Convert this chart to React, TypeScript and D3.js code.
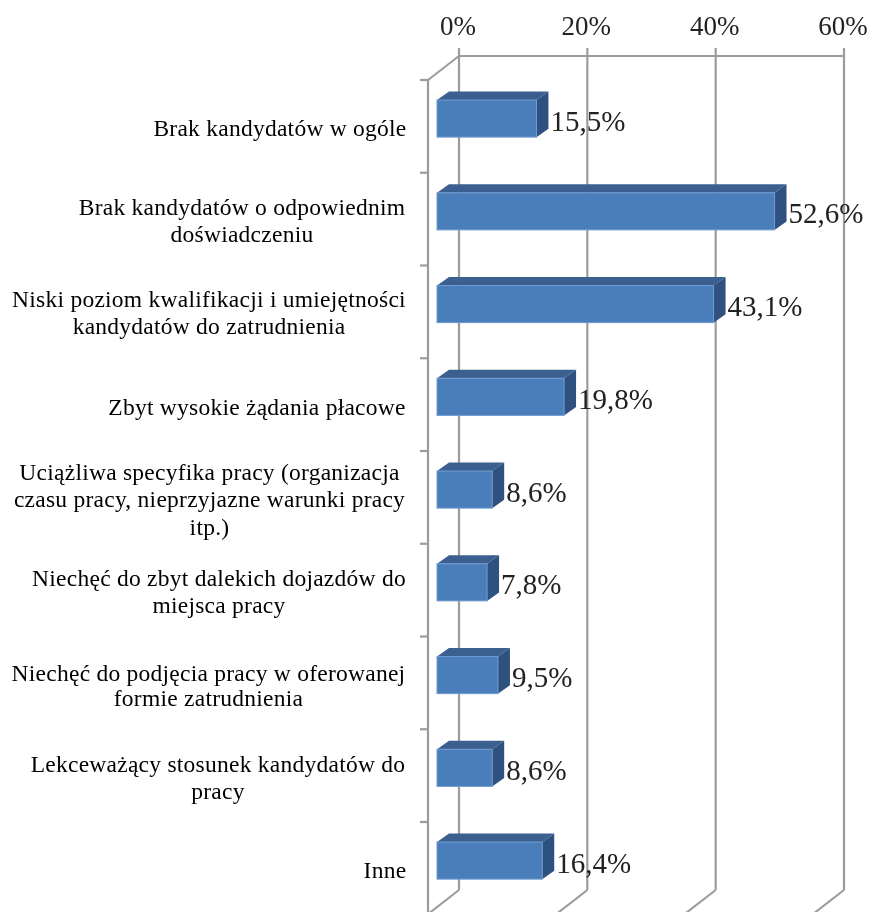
import React from "react";
import * as d3 from "d3";

const categories: string[][] = [
  ["Brak kandydatów w ogóle"],
  ["Brak kandydatów o odpowiednim", "doświadczeniu"],
  ["Niski poziom kwalifikacji i umiejętności", "kandydatów do zatrudnienia"],
  ["Zbyt wysokie żądania płacowe"],
  ["Uciążliwa specyfika pracy (organizacja", "czasu pracy, nieprzyjazne warunki pracy", "itp.)"],
  ["Niechęć do zbyt dalekich dojazdów do", "miejsca pracy"],
  ["Niechęć do podjęcia pracy w oferowanej", "formie zatrudnienia"],
  ["Lekceważący stosunek kandydatów do", "pracy"],
  ["Inne"],
];
const values = [15.5, 52.6, 43.1, 19.8, 8.6, 7.8, 9.5, 8.6, 16.4];
const valueLabels = ["15,5%", "52,6%", "43,1%", "19,8%", "8,6%", "7,8%", "9,5%", "8,6%", "16,4%"];
const ticks = [0, 20, 40, 60];

// layout of the category labels
const labelCentres = [280, 242, 209, 257, 209.5, 219, 208.5, 218, 385];
const labelBaselines = [[136], [215, 241.5], [307, 334], [415], [480, 507, 535], [586, 613], [681, 706], [772, 799], [878]];

const FONT = "'Liberation Serif', serif";
const GRID = "#9c9c9c";

export default function App() {
  const back = d3.scaleLinear().domain([0, 60]).range([459, 844]);
  const front = d3.scaleLinear().domain([0, 60]).range([437, 822]);
  const slots = d3.range(10).map((i) => 80 + i * 92.75);
  const y = d3
    .scaleBand<number>()
    .domain(d3.range(9))
    .range([slots[0], slots[9]])
    .paddingInner(0.6)
    .paddingOuter(0.3)
    .align(0.36);
  const dx = 12, dy = 8.5;
  const depthX = 31, depthY = 24;
  const top = 56, bottom = 890;
  return (
    <svg width={872} height={912} style={{ position: "absolute", left: 0, top: 0, background: "#fff" }}>
      <defs>
        <filter id="soft" x="-5%" y="-5%" width="110%" height="110%">
          <feGaussianBlur stdDeviation="0.5" />
        </filter>
      </defs>
      <g filter="url(#soft)">
        {ticks.map((t) => (
          <g key={t} stroke={GRID} strokeWidth={2.2} fill="none">
            <line x1={back(t)} x2={back(t)} y1={48} y2={bottom} />
            <line x1={back(t)} x2={back(t) - depthX} y1={bottom} y2={bottom + depthY} />
          </g>
        ))}
        <line x1={back(0)} x2={back(60)} y1={top} y2={top} stroke={GRID} strokeWidth={2.2} />
        <line x1={back(0)} x2={back(0) - depthX} y1={top} y2={top + depthY} stroke={GRID} strokeWidth={2.2} />
        <line x1={back(0) - depthX} x2={back(0) - depthX} y1={top + depthY} y2={912} stroke={GRID} strokeWidth={2.2} />
        {d3.range(9).map((i) => (
          <line key={i} x1={420} x2={428} y1={slots[i]} y2={slots[i]} stroke={GRID} strokeWidth={2.2} />
        ))}
        {ticks.map((t) => (
          <text key={t} x={back(t) - 1} y={35} textAnchor="middle" fontFamily={FONT} fontSize={27} fill="#222">
            {t}%
          </text>
        ))}
        {values.map((v, i) => {
          const x0 = front(0), x1 = front(v);
          const yt = y(i)!, h = y.bandwidth(), yb = yt + h;
          return (
            <g key={i}>
              <polygon
                points={`${x0},${yt} ${x0 + dx},${yt - dy} ${x1 + dx},${yt - dy} ${x1},${yt}`}
                fill="#3b6190"
              />
              <polygon
                points={`${x1},${yt} ${x1 + dx},${yt - dy} ${x1 + dx},${yb - dy} ${x1},${yb}`}
                fill="#2f5180"
              />
              <rect x={x0} y={yt} width={x1 - x0} height={h} fill="#4a7ebb" stroke="#6f9bd1" strokeWidth={1} />
              <text x={x1 + dx + 2} y={yt + 30.5} fontFamily={FONT} fontSize={29} fill="#222">
                {valueLabels[i]}
              </text>
            </g>
          );
        })}
        {categories.map((lines, i) =>
          lines.map((l, j) => (
            <text
              key={`${i}-${j}`}
              x={labelCentres[i]}
              y={labelBaselines[i][j]}
              textAnchor="middle"
              fontFamily={FONT}
              fontSize={23.5}
              letterSpacing={0.25}
              fill="#000"
            >
              {l}
            </text>
          ))
        )}
      </g>
    </svg>
  );
}
